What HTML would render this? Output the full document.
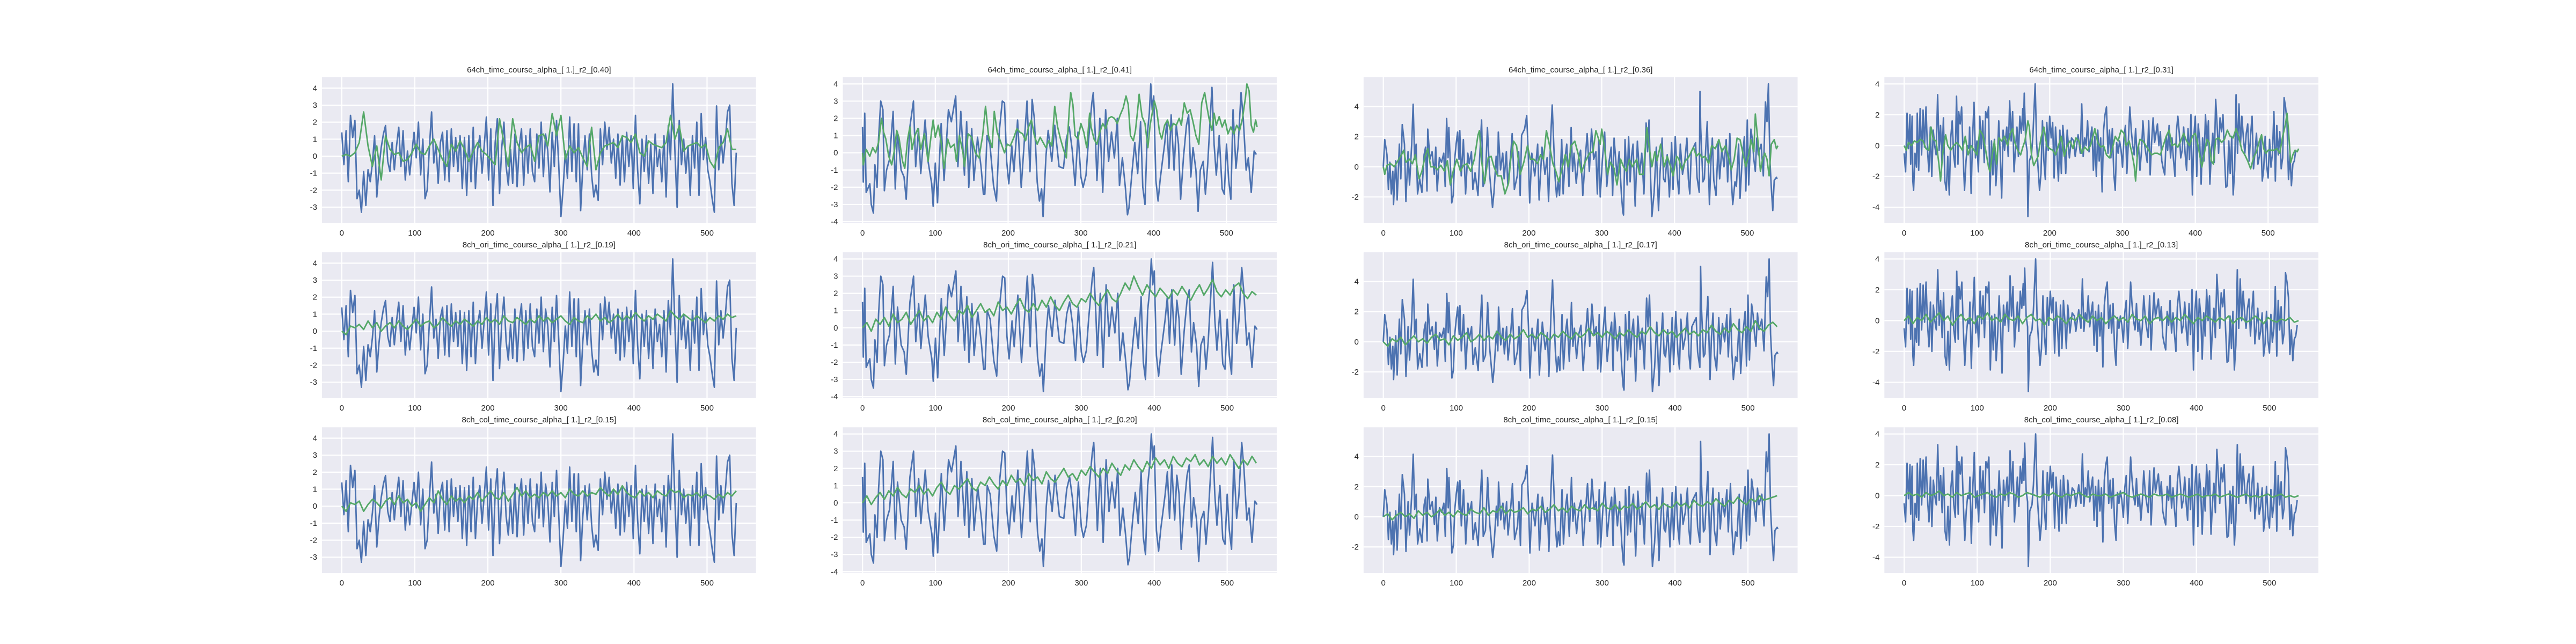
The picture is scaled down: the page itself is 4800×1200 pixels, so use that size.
<!DOCTYPE html>
<html><head><meta charset="utf-8"><style>
html,body{margin:0;padding:0;background:#fff;}
svg{display:block;font-family:"Liberation Sans",sans-serif;}
</style></head><body>
<svg id="fig" width="4800" height="1200" xmlns="http://www.w3.org/2000/svg"></svg>
<script>
// ---- data ----
const titles=["64ch_time_course_alpha_[ 1.]_r2_[0.40]","64ch_time_course_alpha_[ 1.]_r2_[0.41]","64ch_time_course_alpha_[ 1.]_r2_[0.36]","64ch_time_course_alpha_[ 1.]_r2_[0.31]",
"8ch_ori_time_course_alpha_[ 1.]_r2_[0.19]","8ch_ori_time_course_alpha_[ 1.]_r2_[0.21]","8ch_ori_time_course_alpha_[ 1.]_r2_[0.17]","8ch_ori_time_course_alpha_[ 1.]_r2_[0.13]",
"8ch_col_time_course_alpha_[ 1.]_r2_[0.15]","8ch_col_time_course_alpha_[ 1.]_r2_[0.20]","8ch_col_time_course_alpha_[ 1.]_r2_[0.15]","8ch_col_time_course_alpha_[ 1.]_r2_[0.08]"];
const xTicks=[0,100,200,300,400,500];
// blue col1: regular samples every 3
const blue1V=[1.4,-0.5,1.5,-1.5,2.4,1.1,2.1,-2.5,-2.0,-3.3,-0.9,-2.9,-0.8,-1.5,-0.4,1.2,-2.4,-0.7,0.5,1.3,1.8,-0.3,-0.9,0.8,-0.8,0.6,1.7,-0.6,1.5,-1.4,0.3,-1.1,0.2,1.4,-0.1,2.0,-1.1,1.0,-2.5,-2.0,0.5,2.6,-0.4,0.7,-1.6,0.8,1.4,-1.4,1.5,-1.5,1.6,-0.6,1.1,-0.9,1.2,-1.9,1.1,-2.3,1.2,-1.5,1.7,-1.9,0.4,1.2,-1.0,0.6,2.3,-1.4,1.6,-2.9,0.8,2.2,-2.2,0.5,2.0,-0.6,-1.7,0.4,-1.6,1.3,-1.8,0.6,1.6,-1.7,1.2,-1.0,1.6,-0.9,-1.5,1.3,-0.7,2.0,-1.2,1.3,0.3,-2.1,1.4,-0.6,2.1,-0.5,-3.55,-1.9,0.3,-1.3,2.3,-0.9,1.9,-1.5,1.9,-3.2,-0.6,1.2,-0.8,1.3,-1.1,-2.4,-1.7,-2.6,1.6,-0.5,2.0,0.4,1.7,-0.4,1.0,-1.3,1.3,-1.7,1.1,-1.5,1.4,-0.6,1.2,-1.9,2.4,-0.8,-2.8,1.0,-0.9,1.2,-1.6,0.7,-2.2,1.3,-0.6,0.4,-1.5,1.2,-2.4,1.8,-0.2,4.25,0.3,-3.0,2.1,-0.5,1.0,-1.0,0.6,-2.3,1.2,-0.7,2.0,-2.3,2.5,-0.2,1.1,-0.8,-1.5,-2.5,-3.3,2.95,-0.8,1.2,-0.4,0.9,2.6,3.0,-1.6,-2.9,0.2];
const blue1Step=3;
const blue2T=[0,1,3,5,10,12,15,17,20,22,25,28,30,33,37,42,45,48,53,57,60,65,70,73,77,80,86,90,95,97,100,103,108,112,118,122,128,131,135,140,143,146,150,153,158,163,166,168,171,175,180,184,188,192,195,198,201,205,208,213,218,222,226,230,233,236,240,243,246,248,252,255,260,264,270,276,280,284,288,292,296,300,303,307,310,315,317,320,322,326,330,334,338,342,346,350,353,357,361,364,366,370,374,378,382,385,388,391,394,396,398,400,403,406,409,412,415,418,421,424,428,431,434,437,441,445,448,451,454,458,461,464,468,471,474,477,480,483,486,490,494,497,500,503,506,509,513,516,520,523,527,530,534,538,541];
const blue2V=[1.5,-1.7,2.3,-2.3,-1.8,-3.0,-3.5,-0.7,-2.0,0.8,3.0,2.5,-2.2,-1.0,-0.4,2.4,-2.1,1.2,-1.0,-1.4,-2.7,1.5,3.0,-0.8,1.4,-1.2,1.9,-0.5,-1.8,-3.1,-0.6,-2.9,1.7,-1.6,2.5,1.8,3.3,-0.8,2.4,-1.3,1.8,-2.0,1.4,-1.6,0.9,-0.9,-2.4,-2.4,1.0,0.5,-1.9,-2.8,1.3,3.0,2.9,-0.5,-1.8,0.4,-1.1,1.9,-2.0,0.5,3.0,-1.1,3.1,2.0,-1.7,-2.8,-2.1,-3.7,-0.2,1.3,-0.5,1.6,-0.8,-0.9,0.8,1.5,0.2,-1.9,1.2,-1.4,-2.0,-1.3,0.5,2.9,3.5,0.8,-1.6,2.0,-2.3,2.5,-0.5,1.2,-0.3,2.0,-1.9,-0.3,-2.0,-3.6,-3.2,-1.2,0.6,-1.2,1.8,-2.0,-3.0,1.0,2.3,4.0,2.5,3.3,-1.6,-2.8,-1.5,-0.5,0.5,1.8,-0.9,2.2,-1.0,1.6,0.5,-2.7,-0.2,1.6,2.2,-1.4,0.3,-1.0,-3.4,-1.0,-0.5,-2.4,-0.8,1.5,3.8,0.5,-1.3,1.0,-2.1,-2.4,0.5,-1.6,-2.7,2.5,-0.9,0.4,3.5,2.0,-1.0,-0.3,-2.3,0.1,-0.1];
const blue3T=[0,2,5,7,9,11,13,14,17,19,22,24,26,29,31,34,36,39,41,43,45,47,50,53,56,58,60,61,64,67,70,72,74,77,80,83,85,87,89,90,93,94,96,98,100,102,104,105,107,110,113,116,118,121,123,126,130,132,135,137,140,142,143,146,150,152,155,157,158,161,164,166,169,171,175,177,180,184,186,188,190,194,197,199,201,204,208,212,214,218,222,225,227,230,232,233,236,238,240,242,245,247,250,252,255,258,260,262,265,268,271,274,277,280,283,286,289,292,294,296,298,301,304,307,310,313,315,317,321,324,327,329,330,332,335,337,339,341,343,346,349,352,355,358,361,363,365,367,369,372,375,378,380,383,385,387,390,393,396,398,401,404,406,408,411,414,417,419,421,423,426,429,431,434,435,436,439,441,443,445,448,450,452,454,457,460,462,465,468,471,473,476,478,480,483,485,488,490,493,496,498,500,502,505,507,509,511,513,515,519,522,525,527,529,531,533,535,537,540,541];
const blue3V=[0.0,1.8,0.8,-1.5,0.3,-1.8,-0.3,-2.5,0.4,-2.2,1.5,-0.8,2.8,1.5,-2.3,1.0,-1.2,1.5,4.15,0.5,1.5,-1.8,-0.8,-1.7,0.8,1.3,-1.6,2.5,0.5,1.0,-0.5,1.3,-1.6,0.6,0.3,0.9,-1.3,3.2,0.6,2.6,-1.0,-2.4,-1.9,0.5,1.5,2.3,0.5,2.4,-0.6,1.8,-1.8,0.9,0.2,1.0,-1.5,-0.4,-1.9,0.3,3.1,-1.3,-0.9,1.3,2.6,-0.5,-2.7,-1.7,0.7,-0.6,2.3,-0.2,0.9,-0.8,1.0,-1.2,0.8,2.2,-1.5,-0.6,1.0,-1.9,2.1,2.5,3.4,1.0,-2.4,0.9,-0.6,1.5,-2.2,1.3,-0.5,0.6,-2.3,2.0,4.1,2.8,-0.7,-2.0,-1.0,-1.9,1.8,-1.8,0.7,1.5,-1.3,2.6,-0.3,0.9,-1.1,0.5,1.1,-1.9,0.3,2.2,-0.3,2.5,0.5,1.0,-1.8,1.8,-2.0,0.5,2.3,-1.3,0.3,1.3,-1.9,1.9,-0.6,1.0,-1.8,-3.0,-3.2,1.8,-1.2,2.0,-1.0,0.7,1.5,-2.6,1.7,-0.5,0.9,-1.8,2.9,1.0,3.1,-0.5,-3.3,-1.7,1.3,-2.9,-0.5,1.9,-0.8,-1.0,0.8,-2.0,1.6,-1.5,2.0,-0.8,-1.8,1.5,-0.5,0.3,1.9,-0.8,-1.8,1.0,1.3,1.6,-0.7,-1.7,5.0,2.6,-1.0,-0.8,1.3,3.0,-2.5,0.3,1.9,-0.9,-1.9,1.6,-0.8,1.2,0.0,1.8,-1.0,2.2,-0.8,-2.5,-1.0,-1.3,1.5,-2.1,0.5,2.0,-1.6,3.1,-1.2,2.5,1.8,0.5,-0.3,1.9,0.8,1.5,-0.6,4.3,3.0,5.5,0.5,-1.4,-2.9,-0.9,-0.7,-0.8];
const blue4T=[0,2,4,6,8,9,11,12,13,15,17,18,20,22,24,26,28,30,32,34,36,38,40,42,44,46,48,50,52,54,56,58,60,62,64,66,68,70,72,74,75,77,79,81,83,85,87,89,90,92,94,96,98,100,102,104,106,108,110,112,114,116,118,120,122,124,126,128,130,132,134,136,138,141,143,145,147,149,151,153,155,157,159,161,163,164,165,167,169,170,172,175,177,180,182,184,186,188,190,192,194,196,198,200,202,204,206,208,210,212,214,216,218,220,222,224,227,230,233,235,237,239,242,244,246,248,250,252,254,256,258,260,262,264,266,268,270,272,274,276,278,280,282,284,286,288,290,292,294,296,298,300,302,304,306,308,310,312,314,316,318,320,322,324,326,328,330,332,334,336,338,340,342,344,346,348,350,352,354,356,358,360,362,364,366,368,370,372,374,376,378,380,382,384,386,388,390,392,394,396,398,400,402,404,406,408,410,412,414,416,418,420,422,424,426,428,430,432,434,436,438,440,442,444,446,448,450,452,454,456,458,460,462,464,466,468,470,472,474,476,478,480,482,484,486,488,490,492,494,496,498,500,502,504,506,508,510,512,514,516,518,520,522,524,526,528,530,532,534,536,538,540];
const blue4V=[-0.5,-1.7,2.1,-0.2,2.0,-1.2,1.9,-2.3,-2.9,-0.5,-1.4,2.1,-1.6,2.4,-0.6,2.3,-0.1,2.5,-0.2,-1.7,1.2,-2.0,1.0,0.0,-0.6,3.3,-0.3,1.3,-1.1,1.8,-2.3,-2.9,-0.7,-3.2,0.5,1.6,-0.6,-1.4,3.2,-1.2,2.2,1.4,2.5,-0.5,-2.9,-1.0,0.0,-0.2,1.2,-3.1,0.5,2.8,-0.8,0.3,-1.7,1.9,-0.2,1.6,-1.1,2.2,1.8,2.5,-3.2,0.3,-1.9,0.4,-2.6,-1.0,1.6,-0.5,-3.4,1.0,-0.3,1.2,-0.7,2.9,0.3,2.2,-1.7,-0.2,1.2,-0.7,1.9,0.8,2.4,1.0,3.4,0.3,-0.4,-4.6,-1.0,-0.6,0.7,4.0,0.2,-1.4,-2.9,-1.8,1.6,-1.0,-2.2,1.5,-0.3,1.9,0.5,1.5,-2.1,1.2,-0.5,-2.3,1.0,-1.8,1.3,0.0,-1.8,1.0,-0.8,0.5,0.3,-0.7,0.0,0.7,-0.5,2.7,-0.7,0.5,0.0,1.6,-0.4,0.5,1.2,-1.6,0.6,-2.0,1.0,-1.0,0.5,-3.0,1.0,2.0,2.5,-0.5,1.0,-0.8,1.1,-1.8,-2.9,0.2,-0.5,0.3,-0.3,-1.4,0.5,1.3,-1.8,0.2,2.5,1.0,0.0,-0.6,1.1,-0.7,0.0,-1.6,-0.4,1.6,0.2,-0.5,-1.1,1.6,-1.9,0.2,1.8,0.2,0.8,1.4,0.0,0.9,-1.0,-1.5,-1.9,0.6,-0.3,1.3,-0.8,0.5,-0.9,-2.0,0.9,1.9,0.8,-0.8,-0.3,1.2,-0.5,-1.6,1.1,-0.9,2.0,-3.2,0.6,1.9,-2.0,1.4,0.3,-2.5,0.5,-1.0,2.0,0.0,1.6,-2.5,-0.5,0.8,-1.1,3.0,1.3,-0.5,1.8,0.9,2.0,-0.6,-2.7,-2.6,0.3,-1.8,0.6,-3.2,-1.6,3.3,-0.5,2.7,0.0,1.9,0.5,-0.5,0.8,1.4,-1.0,0.7,1.9,-1.5,-0.4,0.8,-1.2,-0.7,0.5,-2.3,-1.5,0.6,-1.3,-2.1,0.4,-1.4,-0.5,2.2,-2.3,1.3,-0.6,0.9,-1.5,-0.8,3.1,2.5,1.5,-2.2,-0.6,-2.6,-1.2,-1.0,-0.3];
// greens (row1, irregular samples)
const green11V=[0,0.1,0.0,0.2,0.8,2.6,0.6,-0.6,0.6,-1.4,1.2,0.4,0.1,0.2,-0.3,-0.2,0.2,0.7,0.2,0.1,0.6,1.0,0.4,-0.2,-0.6,0.7,0.3,0.9,0.4,-0.3,0.3,0.8,0.3,0.1,-0.2,-0.5,2.2,0.8,-0.6,2.2,0.8,0.2,0.5,0.7,-0.3,1.2,1.3,0.6,2.5,1.2,2.4,-0.2,0.6,0.2,0.5,-0.1,-0.6,1.7,-0.8,0.2,0.6,0.7,0.8,0.5,1.2,1.1,0.8,1.3,0.2,0.0,0.9,0.7,0.6,0.5,0.8,2.4,1.0,1.8,0.3,0.6,0.7,0.8,0.5,0.7,-0.3,-0.7,0.5,0.8,1.6,0.4,0.4];
const greenStep=6;
const green21T=[0,1,5,10,14,18,22,26,29,32,36,40,44,47,50,55,58,62,65,68,72,76,80,85,90,95,97,100,104,108,112,117,121,126,129,133,138,140,145,150,155,160,165,169,173,178,181,185,190,195,199,203,208,212,216,220,224,228,232,236,240,244,248,252,256,260,264,268,272,276,280,284,286,289,292,296,300,304,308,312,314,318,322,326,330,334,338,342,346,350,354,358,362,365,368,372,375,378,380,384,388,392,395,398,401,404,408,411,415,419,423,427,431,435,438,442,446,450,454,458,462,466,470,473,476,480,483,486,490,494,498,502,506,510,514,518,522,526,528,531,534,537,540,542];
const green21V=[0,-0.7,0.2,-0.2,0.3,0.0,0.6,2.0,1.2,0.8,-0.2,-0.7,0.2,1.3,0.9,-0.5,-0.9,0.8,1.5,0.2,1.0,1.4,0.2,1.1,-0.5,1.3,1.9,0.9,1.6,0.6,-0.9,0.8,0.3,0.5,-0.5,1.0,0.0,-0.8,1.1,0.9,0.0,-0.3,1.0,2.7,1.0,0.3,2.4,1.2,0.6,0.0,0.5,0.4,0.9,1.4,1.2,1.1,0.7,1.5,1.9,1.0,0.5,0.9,0.6,0.3,0.7,0.4,2.7,1.5,0.8,0.2,-0.3,2.5,3.5,2.8,1.0,0.8,1.7,1.2,0.3,2.3,1.5,0.8,0.5,1.2,1.7,1.4,2.0,2.1,2.0,1.7,2.2,2.6,3.3,2.8,1.0,0.7,1.3,2.5,3.4,2.1,1.7,0.3,1.6,2.3,3.0,2.5,1.2,0.8,1.6,1.9,1.3,1.7,1.6,2.0,1.6,2.9,2.3,2.5,1.8,1.0,0.5,2.9,3.5,2.7,2.0,1.3,2.3,1.6,2.1,1.5,1.9,1.1,1.5,1.1,1.6,1.3,2.0,3.2,4.0,3.6,1.6,1.2,1.9,1.5];
const green31T=[0,2,5,10,15,20,25,28,31,36,40,44,49,53,57,61,65,70,74,79,84,88,92,96,101,106,110,115,120,125,130,132,135,139,144,148,152,157,162,167,172,175,179,183,188,193,198,202,207,212,216,220,224,228,233,237,241,245,250,254,258,263,268,272,277,283,288,292,298,300,304,308,312,317,321,326,330,334,338,342,348,352,357,362,365,369,373,376,381,386,390,394,398,403,406,410,415,419,422,426,430,434,438,442,447,451,456,461,465,470,474,478,482,486,490,494,498,502,505,509,511,515,518,521,524,527,530,533,537,540,542];
const green31V=[0,-0.5,0.1,0.2,0.0,0.4,0.8,1.1,0.3,0.5,0.2,0.8,-0.8,-0.3,0.6,1.2,0.0,0.0,-0.2,0.1,-0.3,0.4,-1.2,-0.3,0.5,-0.3,0.1,0.2,-0.3,0.5,2.1,2.4,0.4,-1.1,0.6,0.7,0.0,-0.6,-0.6,-1.8,-1.1,0.5,1.7,1.4,-0.5,0.3,1.4,0.5,0.5,0.2,0.8,0.5,2.4,1.5,0.2,-0.3,-1.0,-0.2,0.8,0.0,1.4,1.7,0.8,-0.4,0.3,0.9,1.0,2.4,1.5,2.5,1.2,-0.5,0.3,-0.1,-1.2,0.5,0.0,-0.3,0.5,0.0,0.5,-0.5,-0.5,2.6,1.4,0.0,1.0,0.4,1.5,0.0,0.7,0.1,-0.6,0.7,0.5,-0.2,0.4,0.6,0.9,1.3,0.7,0.9,0.6,0.7,0.2,1.4,1.2,1.8,1.0,1.4,0.7,-0.2,0.5,1.9,1.8,0.9,0.0,0.8,1.8,1.0,3.5,1.5,-0.3,0.5,0.9,0.5,-0.6,1.5,1.8,1.2,1.4];
const green41T=[0,3,6,10,14,18,22,26,30,34,37,40,44,48,50,53,57,60,64,68,72,76,80,84,88,92,96,100,104,108,112,116,118,121,124,127,130,134,138,142,146,149,152,156,160,163,166,170,172,175,178,181,184,188,192,196,200,204,208,212,216,220,224,228,232,236,240,244,248,252,256,260,262,266,270,274,278,282,286,290,294,298,302,305,309,313,316,318,321,324,328,332,336,340,344,348,352,356,360,364,368,372,376,380,384,388,392,396,400,403,406,409,412,416,419,422,425,428,432,436,440,444,448,452,456,460,464,468,472,476,480,484,488,491,494,497,500,504,508,512,516,520,524,526,528,531,534,537,540,542];
const green41V=[0,-0.3,0.2,0.0,0.3,0.2,0.4,0.3,-0.2,-0.3,1.2,0.4,0.3,-1.3,-2.3,-0.5,0.7,0.0,-0.3,0.0,0.2,0.0,-0.3,0.6,-0.6,0.0,-0.3,-0.6,1.0,0.7,-0.3,-1.4,-1.7,-0.6,0.3,-1.2,0.5,0.3,0.6,0.0,0.8,1.1,0.2,-0.3,-0.6,-0.1,0.3,1.6,1.2,-0.6,-1.3,-1.0,-0.7,0.5,1.2,0.0,-0.2,-0.3,-0.6,0.0,0.6,-0.7,0.0,0.3,-0.2,0.5,0.3,-0.5,-0.1,-0.3,0.0,0.7,1.1,0.2,-0.1,0.0,-0.6,-0.8,-0.2,0.6,0.3,1.0,0.8,0.0,0.3,-0.5,-1.3,-2.3,-0.2,0.4,0.3,0.0,-0.3,-0.6,-0.5,-0.5,-0.6,0.0,0.6,1.0,0.0,0.1,-0.1,0.3,0.8,0.3,0.0,0.6,0.8,0.2,-0.6,-1.4,-0.6,0.4,0.2,-1.0,-1.2,0.4,0.5,0.2,0.4,1.0,0.6,0.5,1.1,0.5,-0.3,-0.6,-1.0,-1.5,-0.8,-0.4,0.3,0.7,-0.2,-0.5,-0.3,-0.3,-0.3,-0.2,-0.5,0.6,1.4,2.1,1.0,-1.1,-0.6,-0.3,-0.4,-0.2];
// greens (rows 2,3, every 6 samples)
const green12V=[0.0,-0.2,0.3,0.2,0.4,0.1,0.6,0.2,0.5,0.0,0.3,0.5,0.2,0.6,0.3,0.1,0.4,0.7,0.3,0.5,0.6,0.2,0.4,0.8,0.5,0.3,0.6,0.4,0.7,0.5,0.3,0.6,0.4,0.8,0.5,0.7,0.4,0.9,0.6,0.5,0.8,0.6,0.4,0.7,0.5,0.9,0.6,0.8,0.5,0.7,0.9,0.6,0.4,0.8,0.6,0.5,0.9,0.7,1.0,0.6,0.8,0.5,0.7,1.0,0.6,0.9,0.7,1.1,0.8,0.6,0.9,0.7,1.0,0.8,0.6,1.2,0.9,0.7,1.0,0.8,0.6,0.9,0.7,0.5,0.8,0.6,0.9,0.7,1.0,0.8,0.9];
const green13V=[0.0,-0.3,0.2,0.1,0.3,-0.3,0.1,0.4,0.2,-0.1,0.3,0.5,0.1,0.6,0.2,0.4,0.0,0.2,-0.3,0.1,0.5,0.2,0.9,0.4,0.1,0.6,0.3,0.5,0.2,0.6,0.4,0.8,0.3,0.6,0.9,0.5,0.4,0.8,0.3,0.7,1.1,0.6,0.9,0.5,0.7,0.5,0.8,0.6,0.9,0.6,0.8,0.5,1.0,0.7,0.6,0.9,0.6,0.8,0.7,1.1,0.8,0.6,1.0,0.7,1.2,0.8,0.6,0.5,0.9,0.6,0.8,0.5,0.9,0.7,0.6,1.0,0.8,0.9,0.5,0.7,0.6,0.8,0.5,0.7,0.6,0.4,0.7,0.5,0.8,0.6,0.9];
const green22V=[0.0,0.3,-0.2,0.5,0.2,0.6,0.1,0.8,0.3,0.5,0.9,0.2,0.6,1.0,0.4,0.7,0.3,0.9,0.5,1.2,0.7,0.4,1.0,0.8,1.3,0.6,1.0,1.4,0.9,1.1,0.7,1.5,1.0,1.2,0.8,1.3,1.7,1.1,0.9,1.4,1.0,1.6,1.2,1.8,1.3,1.0,1.5,1.9,1.4,1.2,1.7,1.5,2.0,1.6,1.3,1.8,2.2,1.7,1.5,2.0,2.6,2.2,3.0,2.4,1.9,2.5,2.1,1.8,2.3,2.0,1.7,2.2,1.9,2.4,2.0,1.6,2.1,2.5,1.9,2.3,2.8,2.1,1.8,2.2,1.9,2.4,2.6,2.0,1.7,2.1,1.9];
const green23V=[0.0,0.4,-0.1,0.3,0.6,0.2,0.7,0.4,0.9,0.5,0.3,0.8,0.6,1.0,0.5,0.8,0.4,0.9,1.2,0.7,0.5,1.0,0.8,1.1,1.4,0.9,0.7,1.2,1.0,1.5,1.1,0.8,1.3,1.0,1.6,1.2,1.4,1.0,1.7,1.3,1.5,1.1,1.8,1.4,1.2,1.6,2.0,1.5,1.7,1.3,1.9,1.6,2.1,1.8,1.5,2.0,1.7,2.3,1.9,1.6,2.2,1.9,2.5,2.1,1.8,2.4,2.0,2.6,2.2,2.5,2.0,2.7,2.3,2.1,2.6,2.4,2.8,2.2,2.5,2.1,2.7,2.3,2.6,2.2,2.8,2.4,2.0,2.5,2.2,2.7,2.3];
const green32V=[0.0,-0.3,0.2,0.0,0.3,-0.2,0.1,0.4,0.0,0.2,-0.1,0.3,0.5,0.1,0.2,-0.2,0.4,0.1,0.3,0.6,0.0,0.2,0.5,0.1,0.4,0.2,0.7,0.3,0.1,0.5,0.2,0.4,0.8,0.3,0.5,0.2,0.6,0.4,0.1,0.5,0.3,0.7,0.4,0.2,0.6,0.3,0.5,0.9,0.4,0.6,0.3,0.7,0.5,0.2,0.6,0.4,0.8,0.5,0.3,0.7,0.5,1.0,0.6,0.4,0.8,0.5,0.7,0.3,0.6,0.9,0.5,0.7,0.4,0.8,0.6,1.1,0.7,0.5,0.9,0.6,1.2,0.8,0.6,1.0,0.7,1.4,0.9,0.7,1.1,1.3,1.0];
const green33V=[0.0,0.2,-0.2,0.1,0.3,0.0,0.2,-0.1,0.4,0.1,0.3,0.0,0.2,0.5,0.1,0.3,0.0,0.4,0.2,0.1,0.5,0.3,0.2,0.6,0.1,0.4,0.3,0.7,0.2,0.5,0.3,0.4,0.6,0.2,0.5,0.4,0.7,0.3,0.5,0.8,0.4,0.6,0.3,0.7,0.5,0.4,0.8,0.5,0.6,0.4,0.9,0.6,0.5,0.8,0.4,0.7,0.6,0.9,0.5,0.7,1.0,0.6,0.8,0.5,0.9,0.7,0.6,1.0,0.7,0.9,0.6,1.1,0.8,0.7,1.0,0.8,1.2,0.9,0.7,1.1,0.9,1.3,1.0,0.8,1.2,1.0,1.4,1.1,1.2,1.3,1.4];
const green42V=[0.0,0.3,-0.2,0.2,0.0,0.4,-0.1,0.2,0.5,0.0,0.3,-0.3,0.1,0.4,0.0,0.2,-0.2,0.3,0.1,0.5,0.0,0.2,-0.1,0.4,0.1,0.0,0.3,-0.2,0.2,0.4,0.0,0.1,-0.3,0.2,0.0,0.3,0.1,-0.2,0.2,0.0,0.4,0.1,-0.1,0.3,0.0,0.2,-0.2,0.1,0.3,0.0,0.2,-0.1,0.4,0.1,0.0,0.3,-0.2,0.1,0.2,0.0,0.3,-0.1,0.2,0.0,0.4,0.1,-0.2,0.2,0.0,0.3,0.1,-0.1,0.2,0.0,0.3,-0.2,0.1,0.2,-0.1,0.0,0.3,0.1,-0.2,0.2,0.0,-0.1,0.1,0.0,0.2,-0.1,0.0];
const green43V=[0.0,0.2,0.0,0.1,-0.1,0.2,0.0,0.1,0.3,0.0,0.1,-0.1,0.2,0.0,0.1,0.2,-0.1,0.0,0.1,0.2,0.0,-0.1,0.1,0.0,0.2,0.1,-0.1,0.0,0.2,0.1,0.0,-0.1,0.1,0.0,0.2,0.0,-0.1,0.1,0.0,0.1,0.2,0.0,-0.1,0.1,0.0,0.0,0.1,-0.1,0.0,0.1,0.2,0.0,-0.1,0.0,0.1,0.0,-0.1,0.1,0.0,0.0,0.1,-0.1,0.0,0.1,0.0,-0.1,0.0,0.1,-0.1,0.0,0.0,0.1,-0.1,0.0,0.1,0.0,-0.1,0.0,0.1,-0.1,0.0,-0.1,0.0,0.1,-0.1,0.0,0.1,-0.1,0.0,-0.1,0.0];

// ---- build ----
const NS="http://www.w3.org/2000/svg";
const svg=document.getElementById('fig');
function mk(tag,attrs,parent){const e=document.createElementNS(NS,tag);for(const k in attrs)e.setAttribute(k,attrs[k]);(parent||svg).appendChild(e);return e;}
function regT(vals,step){return vals.map((v,i)=>i*step);}
const blueT=[regT(blue1V,blue1Step),blue2T,blue3T,blue4T];
const blueV=[blue1V,blue2V,blue3V,blue4V];
const greenT=[[regT(green11V,greenStep),green21T,green31T,green41T],
 [regT(green12V,greenStep),regT(green22V,greenStep),regT(green32V,greenStep),regT(green42V,greenStep)],
 [regT(green13V,greenStep),regT(green23V,greenStep),regT(green33V,greenStep),regT(green43V,greenStep)]];
const greenV=[[green11V,green21V,green31V,green41V],[green12V,green22V,green32V,green42V],[green13V,green23V,green33V,green43V]];

const L=600,R=4320,T=144,B=1068;
const cw=(R-L)/4.6, rh=(B-T)/3.4;
for(let r=0;r<3;r++){for(let c=0;c<4;c++){
  const x0=L+c*cw*1.2, y0=T+r*rh*1.2, w=cw, h=rh;
  const g=mk('g',{});
  
  
  const bg=mk('rect',{x:x0,y:y0,width:w,height:h,fill:'#EAEAF2'},g);
  
  
  const bt=blueT[c], bv=blueV[c], gt=greenT[r][c], gv=greenV[r][c];
  const tmax=Math.max(bt[bt.length-1],gt[gt.length-1]);
  const xmin=-0.05*tmax, xmax=tmax*1.05;
  const all=bv.concat(gv);
  const dmin=Math.min(...all), dmax=Math.max(...all), sp=dmax-dmin;
  const ymin=dmin-0.05*sp, ymax=dmax+0.05*sp;
  const X=t=>x0+(t-xmin)/(xmax-xmin)*w;
  const Y=v=>y0+h-(v-ymin)/(ymax-ymin)*h;
  const step=sp>8.2?2:1;
  xTicks.forEach(t=>{
    const ln=mk('line',{x1:X(t),x2:X(t),y1:y0,y2:y0+h,stroke:'#fff','stroke-width':2.2},g);
    
    
    const tx=mk('text',{x:X(t),y:y0+h+23,'text-anchor':'middle','font-size':15,fill:'#262626'},g);
    tx.textContent=String(t);
    
    
  });
  for(let v=Math.ceil(ymin/step)*step; v<=ymax; v+=step){
    const ln=mk('line',{x1:x0,x2:x0+w,y1:Y(v),y2:Y(v),stroke:'#fff','stroke-width':2.2},g);
    
    
    const tx=mk('text',{x:x0-9,y:Y(v)+5,'text-anchor':'end','font-size':15,fill:'#262626'},g);
    tx.textContent=String(v);
    
    
  }
  const bp=mk('polyline',{points:bt.map((t,i)=>X(t).toFixed(1)+','+Y(bv[i]).toFixed(1)).join(' '),fill:'none',stroke:'#4C72B0','stroke-width':2.8,'stroke-linejoin':'round'},g);
  
  
  const gp=mk('polyline',{points:gt.map((t,i)=>X(t).toFixed(1)+','+Y(gv[i]).toFixed(1)).join(' '),fill:'none',stroke:'#55A868','stroke-width':2.8,'stroke-linejoin':'round'},g);
  
  
  const ti=mk('text',{x:x0+w/2,y:y0-9,'text-anchor':'middle','font-size':15,fill:'#262626'},g);
  ti.textContent=titles[r*4+c];
  
  
}}
</script>
</body></html>
